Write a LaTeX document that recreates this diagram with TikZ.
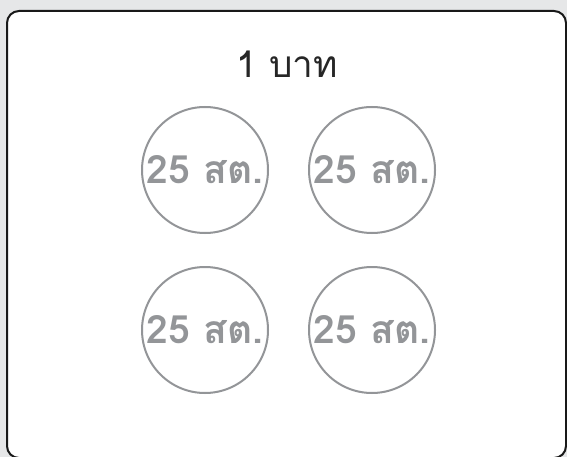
\documentclass[tikz,border=0pt]{standalone}
\usepackage{fontspec}
\newfontfamily\thaifont[Script=Thai]{Loma}
\definecolor{bggrey}{HTML}{E6E7E8}
\definecolor{coingrey}{HTML}{939598}
\begin{document}
\begin{tikzpicture}[x=1pt,y=-1pt,
  coin/.style={circle,draw=coingrey,line width=2pt,minimum size=126pt,inner sep=0pt,
    text=coingrey,font=\thaifont\bfseries\fontsize{39}{39}\selectfont},
  frame/.style={draw=black!90,line width=2pt,rounded corners=12pt,fill=white}]
\fill[bggrey] (0,0) rectangle (567,457);
\useasboundingbox (0,0) rectangle (567,457);
\draw[frame] (7,11) rectangle (566,458);
\node[font=\thaifont\fontsize{37}{37}\selectfont,text=black!85] (title) at (287,64) {1 บาท};
\node[coin] (c1) at (205,170) {25 สต.};
\node[coin] (c2) at (372,170) {25 สต.};
\node[coin] (c3) at (205,330) {25 สต.};
\node[coin] (c4) at (372,330) {25 สต.};
\end{tikzpicture}
\end{document}
